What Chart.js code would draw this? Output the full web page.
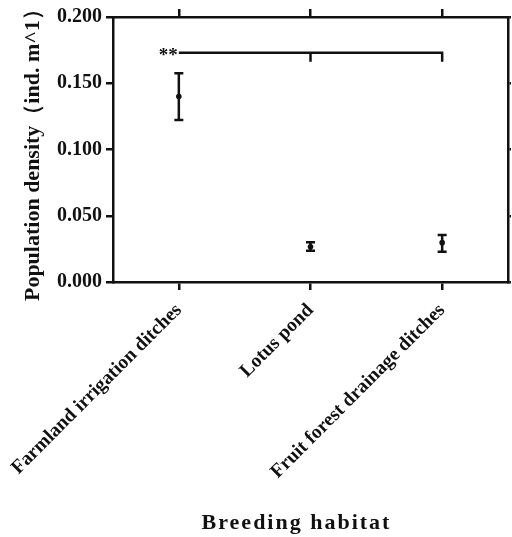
<!DOCTYPE html>
<html><head><meta charset="utf-8">
<script src="https://cdn.jsdelivr.net/npm/chart.js@4"></script>
<style>html,body{margin:0;padding:0;background:#fff}#wrap{width:512px;height:537px}</style>
</head><body><div id="wrap"><canvas id="c" width="512" height="537"></canvas></div>
<script>
const categories = ['Farmland irrigation ditches', 'Lotus pond', 'Fruit forest drainage ditches'];
const means = [0.140, 0.0266, 0.0297];
const upper = [0.1575, 0.0300, 0.0355];
const lower = [0.1223, 0.0236, 0.0229];
const yTicks = [0, 0.05, 0.1, 0.15, 0.2];
const bracketY = 0.173;
const bracketFrom = 0, bracketTo = 2, bracketMid = 1;
const sigLabel = '**';
const xTitle = 'Breeding habitat';
const yTitle = 'Population density（ind. m^1）';

const FONT = "'Liberation Serif', 'Times New Roman', serif";
const LW = 2.5;

const errPlugin = {
  id: 'errbars',
  afterDatasetsDraw(chart) {
    const ctx = chart.ctx, x = chart.scales.x, y = chart.scales.y;
    ctx.save();
    ctx.strokeStyle = '#111'; ctx.lineWidth = 2.5; ctx.lineCap = 'butt';
    categories.forEach((c, i) => {
      const px = x.getPixelForValue(i);
      const yu = y.getPixelForValue(upper[i]), yl = y.getPixelForValue(lower[i]);
      ctx.beginPath();
      ctx.moveTo(px, yu); ctx.lineTo(px, yl);
      ctx.moveTo(px - 4.5, yu); ctx.lineTo(px + 4.5, yu);
      ctx.moveTo(px - 4.5, yl); ctx.lineTo(px + 4.5, yl);
      ctx.stroke();
    });
    const by = y.getPixelForValue(bracketY);
    const x0 = x.getPixelForValue(bracketFrom), x1 = x.getPixelForValue(bracketTo), xm = x.getPixelForValue(bracketMid);
    ctx.beginPath();
    ctx.moveTo(x0, by); ctx.lineTo(x1 + 1.2, by);
    ctx.moveTo(x1, by); ctx.lineTo(x1, by + 9);
    ctx.moveTo(xm, by); ctx.lineTo(xm, by + 9);
    ctx.stroke();
    ctx.fillStyle = '#111';
    ctx.font = "bold 19px " + FONT;
    ctx.textAlign = 'right'; ctx.textBaseline = 'middle';
    ctx.fillText(sigLabel, x0 - 1, by + 3);
    const ca = chart.chartArea;
    ctx.font = "bold 22px " + FONT;
    ctx.letterSpacing = '2px';
    ctx.textAlign = 'center'; ctx.textBaseline = 'middle';
    ctx.fillText(xTitle, (ca.left + ca.right) / 2 - 14, 523);
    ctx.restore();
  }
};

new Chart(document.getElementById('c'), {
  type: 'line',
  data: {
    labels: categories,
    datasets: [{
      data: means,
      showLine: false,
      pointRadius: 2.8,
      pointBackgroundColor: '#111',
      pointBorderColor: '#111',
      pointBorderWidth: 0
    }]
  },
  options: {
    responsive: false,
    animation: false,
    devicePixelRatio: 1,
    layout: { padding: { top: 9, right: 0, left: 0, bottom: 0 } },
    plugins: { legend: { display: false }, tooltip: { enabled: false } },
    scales: {
      x: {
        type: 'category',
        offset: true,
        position: 'bottom',
        afterFit(s) { s.height = 255; s.paddingLeft = 0; s.paddingRight = 0; },
        grid: { display: true, drawOnChartArea: false, offset: false, tickLength: 8, color: '#111', lineWidth: LW },
        border: { display: true, color: '#111', width: LW },
        ticks: {
          color: '#111', font: { family: FONT, size: 19.5, weight: 'bold' },
          maxRotation: 45, minRotation: 45, padding: 9
        }
      },
      x2: {
        type: 'category',
        labels: categories,
        offset: true,
        position: 'top',
        afterFit(s) { s.paddingLeft = 0; s.paddingRight = 0; },
        grid: { display: true, drawOnChartArea: false, offset: false, tickLength: 8, color: '#111', lineWidth: LW },
        border: { display: true, color: '#111', width: LW },
        ticks: { display: false }
      },
      y: {
        min: 0, max: 0.2,
        afterBuildTicks(s) { s.ticks = yTicks.map(v => ({ value: v })); },
        afterFit(s) { s.width = 113; },
        grid: { display: true, drawOnChartArea: false, tickLength: 7, color: '#111', lineWidth: LW },
        border: { display: true, color: '#111', width: LW },
        ticks: {
          color: '#111', font: { family: FONT, size: 20, weight: 'bold' }, padding: 4,
          callback: v => Number(v).toFixed(3)
        },
        title: {
          display: true, text: yTitle, color: '#111',
          font: { family: FONT, size: 22, weight: 'bold' }, padding: { top: 20, bottom: 0 }
        }
      },
      y2: {
        min: 0, max: 0.2,
        position: 'right',
        afterBuildTicks(s) { s.ticks = yTicks.map(v => ({ value: v })); },
        grid: { display: true, drawOnChartArea: false, tickLength: 3, color: '#111', lineWidth: LW },
        border: { display: true, color: '#111', width: LW },
        ticks: { display: false }
      }
    }
  },
  plugins: [errPlugin]
});
</script></body></html>
